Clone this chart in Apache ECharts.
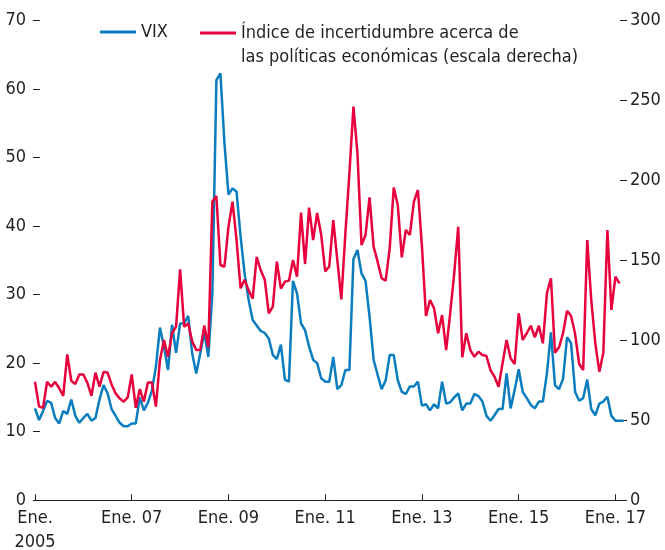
<!DOCTYPE html>
<html>
<head>
<meta charset="utf-8">
<script src="https://cdn.jsdelivr.net/npm/echarts@6/dist/echarts.min.js"></script>
<style>
html,body{margin:0;padding:0;background:#fff;}
#chart{width:665px;height:550px;}
</style>
</head>
<body>
<div id="chart"></div>
<script>
// Monthly, Jan 2005 - Mar 2017
var startYear = 2005;
var nMonths = 147;
var tickLabels = ['Ene.\n2005', 'Ene. 07', 'Ene. 09', 'Ene. 11', 'Ene. 13', 'Ene. 15', 'Ene. 17'];
var leftTicks = [0, 10, 20, 30, 40, 50, 60, 70];
var rightTicks = [0, 50, 100, 150, 200, 250, 300];

var vix = [
13.4,11.7,13.0,14.5,14.2,12.0,11.2,13.0,12.6,14.7,12.3,11.3,
12.0,12.6,11.6,12.0,14.7,16.8,15.6,13.3,12.3,11.3,10.8,10.8,
11.2,11.2,15.0,13.1,14.2,16.0,19.5,25.2,22.4,19.0,25.6,21.5,
25.8,25.8,26.9,21.4,18.5,21.4,24.5,20.9,30.2,61.3,62.3,52.1,
44.6,45.5,45.0,38.5,33.1,29.2,26.3,25.5,24.7,24.4,23.6,21.2,
20.6,22.7,17.6,17.3,32.0,30.2,25.8,24.8,22.4,20.5,20.0,17.8,
17.3,17.3,20.9,16.2,16.8,19.0,19.0,35.2,36.5,33.1,32.0,26.8,
20.5,18.3,16.2,17.5,21.2,21.2,17.5,15.8,15.5,16.6,16.6,17.3,
13.8,14.0,13.1,14.0,13.4,17.3,14.1,14.3,15.0,15.6,13.1,14.1,
14.1,15.5,15.2,14.4,12.3,11.6,12.4,13.3,13.3,18.5,13.4,16.1,
19.1,15.8,14.9,13.9,13.4,14.4,14.4,18.5,24.5,16.8,16.2,17.7,
23.8,22.9,15.8,14.5,14.9,17.6,13.3,12.4,14.1,14.4,15.1,12.3,
11.6,11.6,11.6
];

var epu = [
74.1,58.5,57.8,74.1,71.0,74.0,70.0,65.3,91.2,74.7,72.6,78.6,
78.6,73.4,65.3,79.8,71.0,80.2,79.8,72.4,66.8,63.7,61.6,64.3,
78.6,57.8,69.5,61.6,73.6,73.6,58.5,87.7,100.2,89.8,104.4,108.5,
144.4,108.5,110.6,99.2,94.0,94.0,109.2,95.7,186.7,190.2,147.1,146.0,
171.1,186.7,162.7,132.5,137.9,131.2,126.0,152.1,143.8,137.9,116.9,121.1,
149.2,132.3,136.7,137.3,150.2,139.8,179.8,147.7,183.0,162.7,179.6,166.0,
143.1,146.2,175.2,150.2,125.6,166.9,204.4,246.1,216.9,159.6,165.9,189.4,
158.6,149.2,138.8,137.3,157.5,195.5,184.6,151.9,169.0,165.9,186.7,194.0,
158.6,115.2,125.2,120.0,104.4,115.8,93.9,116.9,141.9,171.0,89.4,104.4,
93.9,89.7,92.9,90.8,90.2,81.4,77.2,71.0,85.6,100.2,88.7,85.2,
116.9,100.2,104.4,109.1,101.9,109.1,98.1,129.4,138.8,92.2,95.6,104.4,
118.5,115.2,103.9,85.2,81.4,162.7,125.2,98.1,80.4,92.2,169.0,119.0,
139.8,135.6
];

var categories = [];
for (var i = 0; i < nMonths; i++) {
  var y = startYear + Math.floor(i / 12);
  var m = (i % 12) + 1;
  categories.push(y + '-' + (m < 10 ? '0' + m : m));
}

var FONT = '"Liberation Sans Narrow", "DejaVu Sans Condensed", sans-serif';
var TXT = '#231f20';
var BLUE = '#0a7dbe';
var RED = '#e8003d';
var EPU_NAME = 'Índice de incertidumbre acerca de\nlas políticas económicas (escala derecha)';

var chart = echarts.init(document.getElementById('chart'), null, {renderer: 'canvas'});
chart.setOption({
  animation: false,
  backgroundColor: '#fff',
  textStyle: {fontFamily: FONT},
  grid: {left: 35, right: 41.5, top: 20.5, bottom: 49.8, containLabel: false, outerBoundsMode: 'none'},
  legend: [{
    data: ['VIX'],
    left: 100, top: 20, padding: 0,
    icon: 'rect', itemWidth: 36, itemHeight: 3, itemGap: 6,
    textStyle: {fontFamily: FONT, fontSize: 18, color: TXT, lineHeight: 24}
  }, {
    data: [EPU_NAME],
    left: 200, top: -3, padding: 0,
    icon: 'rect', itemWidth: 36, itemHeight: 3, itemGap: 6,
    formatter: function (name) { return '\n' + name; },
    textStyle: {fontFamily: FONT, fontSize: 18, color: TXT, lineHeight: 24}
  }],
  xAxis: {
    type: 'category',
    data: categories,
    boundaryGap: false,
    axisLine: {show: true, lineStyle: {color: TXT, width: 1}},
    axisTick: {show: true, inside: true, length: 6, lineStyle: {color: TXT},
      interval: function (idx) { return idx % 24 === 0; }},
    axisLabel: {
      interval: function (idx) { return idx % 24 === 0; },
      formatter: function (val, idx) { return tickLabels[idx / 24]; },
      fontFamily: FONT, fontSize: 18, color: TXT, margin: 6, lineHeight: 24
    },
    splitLine: {show: false}
  },
  yAxis: [{
    type: 'value', min: 0, max: 70, interval: 10, position: 'left', offset: -5,
    axisLine: {show: false},
    axisTick: {show: true, length: 7, lineStyle: {color: TXT}},
    axisLabel: {fontFamily: FONT, fontSize: 18, color: TXT, margin: 14,
      formatter: function (v) { return leftTicks.indexOf(v) >= 0 ? String(v) : ''; }},
    splitLine: {show: false}
  }, {
    type: 'value', min: 0, max: 300, interval: 50, position: 'right', offset: -3.5,
    axisLine: {show: false},
    axisTick: {show: true, length: 7, lineStyle: {color: TXT}},
    axisLabel: {fontFamily: FONT, fontSize: 18, color: TXT, margin: 10,
      formatter: function (v) { return rightTicks.indexOf(v) >= 0 ? String(v) : ''; }},
    splitLine: {show: false}
  }],
  series: [{
    name: 'VIX', type: 'line', yAxisIndex: 0, data: vix,
    symbol: 'none', lineStyle: {color: BLUE, width: 2.5}, itemStyle: {color: BLUE}, z: 2
  }, {
    name: EPU_NAME,
    type: 'line', yAxisIndex: 1, data: epu,
    symbol: 'none', lineStyle: {color: RED, width: 2.5}, itemStyle: {color: RED}, z: 3
  }]
});
</script>
</body>
</html>
